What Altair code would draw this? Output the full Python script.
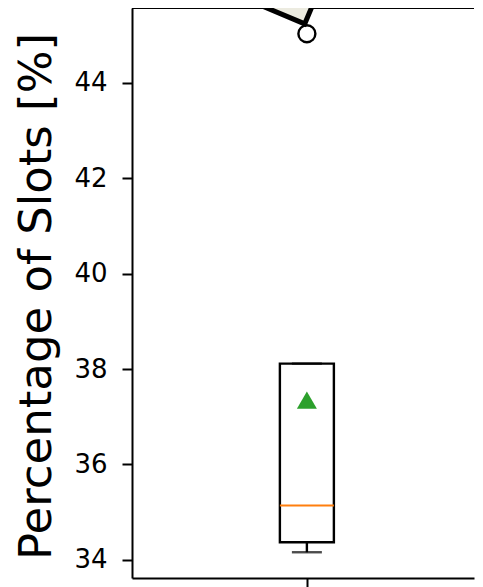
import altair as alt
import pandas as pd

# box statistics (percentage of slots)
positions = [1]
q1 = [34.37]
q3 = [38.115]
medians = [35.14]
means = [37.35]
whisker_low = [34.16]
whisker_high = [38.115]
outliers = [45.03]

y_ticks = [34, 36, 38, 40, 42, 44]
y_title = "Percentage of Slots [%]"

# annotation box (mostly outside the visible area)
annot_x = [0.915]
annot_y = [46.61]

W, H = 342, 570
y_dom = [33.62, 45.57]
x_dom = [0.5, 0.5 + W / 350]

box_df = pd.DataFrame({"pos": positions, "q1": q1, "q3": q3, "med": medians,
                       "mean": means, "lo": whisker_low, "hi": whisker_high})
out_df = pd.DataFrame({"pos": positions * len(outliers), "v": outliers})
ann_df = pd.DataFrame({"x": annot_x, "y": annot_y})

xs = alt.Scale(domain=x_dom, nice=False, zero=False)
ys = alt.Scale(domain=y_dom, nice=False, zero=False)

LW = 2.4

xax = alt.Axis(title=None, labels=False, ticks=True, tickSize=9, tickWidth=2,
               tickColor="black", values=positions, domainColor="black",
               domainWidth=2, grid=False)
yax = alt.Axis(title=y_title, values=y_ticks, grid=False, tickSize=10,
               tickWidth=2, tickColor="black", domainColor="black",
               domainWidth=2, labelFont="DejaVu Sans", labelFontSize=26,
               labelColor="black", labelPadding=15, titleFont="DejaVu Sans",
               titleFontSize=45, titleFontWeight="normal", titleColor="black",
               titleX=-82, titleY=288, titleBaseline="alphabetic")

base = alt.Chart(box_df)

box = base.mark_bar(size=54, fill="white", stroke="black", strokeWidth=LW).encode(
    x=alt.X("pos:Q", scale=xs, axis=xax),
    y=alt.Y("q1:Q", scale=ys, axis=yax),
    y2="q3:Q",
)
whisk = base.mark_rule(color="black", strokeWidth=LW).encode(
    x=alt.X("pos:Q", scale=xs), y=alt.Y("lo:Q", scale=ys), y2="q1:Q")
cap_lo = base.mark_tick(orient="horizontal", size=30, thickness=LW, color="black").encode(
    x=alt.X("pos:Q", scale=xs), y=alt.Y("lo:Q", scale=ys))
cap_hi = base.mark_tick(orient="horizontal", size=30, thickness=LW, color="black").encode(
    x=alt.X("pos:Q", scale=xs), y=alt.Y("hi:Q", scale=ys))
med = base.mark_tick(orient="horizontal", size=54, thickness=2.2, color="#ff7f0e",
                     opacity=1).encode(
    x=alt.X("pos:Q", scale=xs), y=alt.Y("med:Q", scale=ys))
mean = base.mark_point(shape="triangle-up", filled=True, size=400, color="#2ca02c",
                       opacity=1).encode(
    x=alt.X("pos:Q", scale=xs), y=alt.Y("mean:Q", scale=ys))
outl = alt.Chart(out_df).mark_point(shape="circle", filled=False, size=289,
                                    stroke="black", strokeWidth=LW, opacity=1).encode(
    x=alt.X("pos:Q", scale=xs), y=alt.Y("v:Q", scale=ys))
top = alt.Chart(box_df).mark_rule(color="black", strokeWidth=2).encode(
    y=alt.value(0), x=alt.value(0), x2=alt.value(W))
ann = alt.Chart(ann_df).mark_point(shape="square", size=10000, angle=22.8, filled=True,
                                   fill="#ecebe0", stroke="black", strokeWidth=5,
                                   opacity=1, fillOpacity=1, strokeOpacity=1).encode(
    x=alt.X("x:Q", scale=xs), y=alt.Y("y:Q", scale=ys))

chart = alt.layer(top, box, whisk, cap_lo, cap_hi, med, mean, outl, ann).properties(
    width=W, height=H,
    autosize=alt.AutoSizeParams(type="none"),
    padding={"left": 124, "top": 0, "right": 1, "bottom": 9},
).configure_view(stroke=None)

chart.save("out.html", embed_options={"renderer": "svg", "actions": False})
